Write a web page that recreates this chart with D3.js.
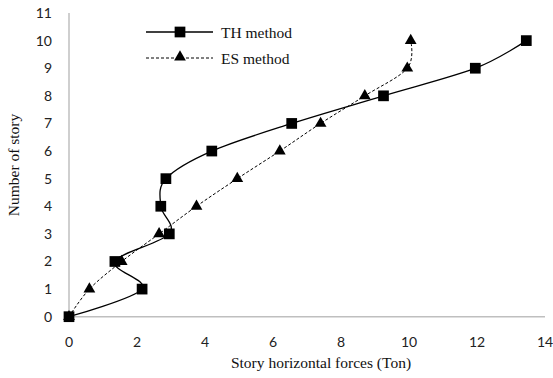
<!DOCTYPE html>
<html><head><meta charset="utf-8">
<script src="https://cdn.jsdelivr.net/npm/d3@7"></script>
<style>body{margin:0;background:#fff}</style>
</head><body>
<svg id="c" width="553" height="378"></svg>
<script>
const stories = [0,1,2,3,4,5,6,7,8,9,10];
const thForces = [0,2.15,1.35,2.95,2.7,2.85,4.2,6.55,9.25,11.95,13.45];
const esForces = [0,0.6,1.55,2.65,3.75,4.95,6.2,7.4,8.7,9.95,10.05];
const xTicks = [0,2,4,6,8,10,12,14];
const yTicks = [0,1,2,3,4,5,6,7,8,9,10,11];
const seriesNames = ["TH method","ES method"];

const svg = d3.select("#c");
const x = d3.scaleLinear().domain([0,14]).range([69,545]);
const y = d3.scaleLinear().domain([0,11]).range([316.7,13]);
const grey = "#bfbfbf";

// axes lines
svg.append("line").attr("x1",x(0)).attr("x2",x(14)).attr("y1",y(0)).attr("y2",y(0)).attr("stroke",grey).attr("stroke-width",1.5);
svg.append("line").attr("x1",x(0)).attr("x2",x(0)).attr("y1",y(0)).attr("y2",y(11)).attr("stroke",grey).attr("stroke-width",1.5);

const tickFont = "Lato, 'Open Sans', sans-serif";
svg.selectAll(".xt").data(xTicks).enter().append("text")
  .attr("x",d=>x(d)).attr("y",347).attr("text-anchor","middle")
  .attr("font-family",tickFont).attr("font-size",14).attr("fill","#222").text(d=>d);
svg.selectAll(".yt").data(yTicks).enter().append("text")
  .attr("x",52).attr("y",d=>y(d)+5).attr("text-anchor","end")
  .attr("font-family",tickFont).attr("font-size",14).attr("fill","#222").text(d=>d);

const serif = "'Liberation Serif','Times New Roman',serif";
svg.append("text").attr("x",321).attr("y",368).attr("text-anchor","middle")
  .attr("font-family",serif).attr("font-size",15.5).attr("fill","#111").text("Story horizontal forces (Ton)");
svg.append("text").attr("transform","translate(19,165) rotate(-90)").attr("text-anchor","middle")
  .attr("font-family",serif).attr("font-size",15.5).attr("fill","#111").text("Number of story");

const line = d3.line().curve(d3.curveCardinal.tension(0));
const thPts = stories.map((s,i)=>[x(thForces[i]),y(s)]);
const esPts = stories.map((s,i)=>[x(esForces[i]),y(s)]);

svg.append("path").attr("d",line(esPts)).attr("fill","none").attr("stroke","#000").attr("stroke-width",1).attr("stroke-dasharray","3,2");
svg.append("path").attr("d",line(thPts)).attr("fill","none").attr("stroke","#000").attr("stroke-width",1.3);

const sq = d3.symbol().type(d3.symbolSquare).size(115);
const tri = d3.symbol().type(d3.symbolTriangle).size(60);
svg.selectAll(".es").data(esPts).enter().append("path").attr("d",tri)
  .attr("transform",d=>`translate(${d[0]},${d[1]})`).attr("fill","#000");
svg.selectAll(".th").data(thPts).enter().append("path").attr("d",sq)
  .attr("transform",d=>`translate(${d[0]},${d[1]})`).attr("fill","#000");

// legend
const lg = svg.append("g");
lg.append("line").attr("x1",146).attr("x2",213).attr("y1",32).attr("y2",32).attr("stroke","#000").attr("stroke-width",1.3);
lg.append("path").attr("d",sq).attr("transform","translate(180,32)").attr("fill","#000");
lg.append("text").attr("x",221).attr("y",37.5).attr("font-family",serif).attr("font-size",15.5).attr("fill","#111").text(seriesNames[0]);
lg.append("line").attr("x1",146).attr("x2",213).attr("y1",58).attr("y2",58).attr("stroke","#000").attr("stroke-width",1).attr("stroke-dasharray","3,2");
lg.append("path").attr("d",tri).attr("transform","translate(180,57)").attr("fill","#000");
lg.append("text").attr("x",221).attr("y",63.5).attr("font-family",serif).attr("font-size",15.5).attr("fill","#111").text(seriesNames[1]);
</script>
</body></html>
